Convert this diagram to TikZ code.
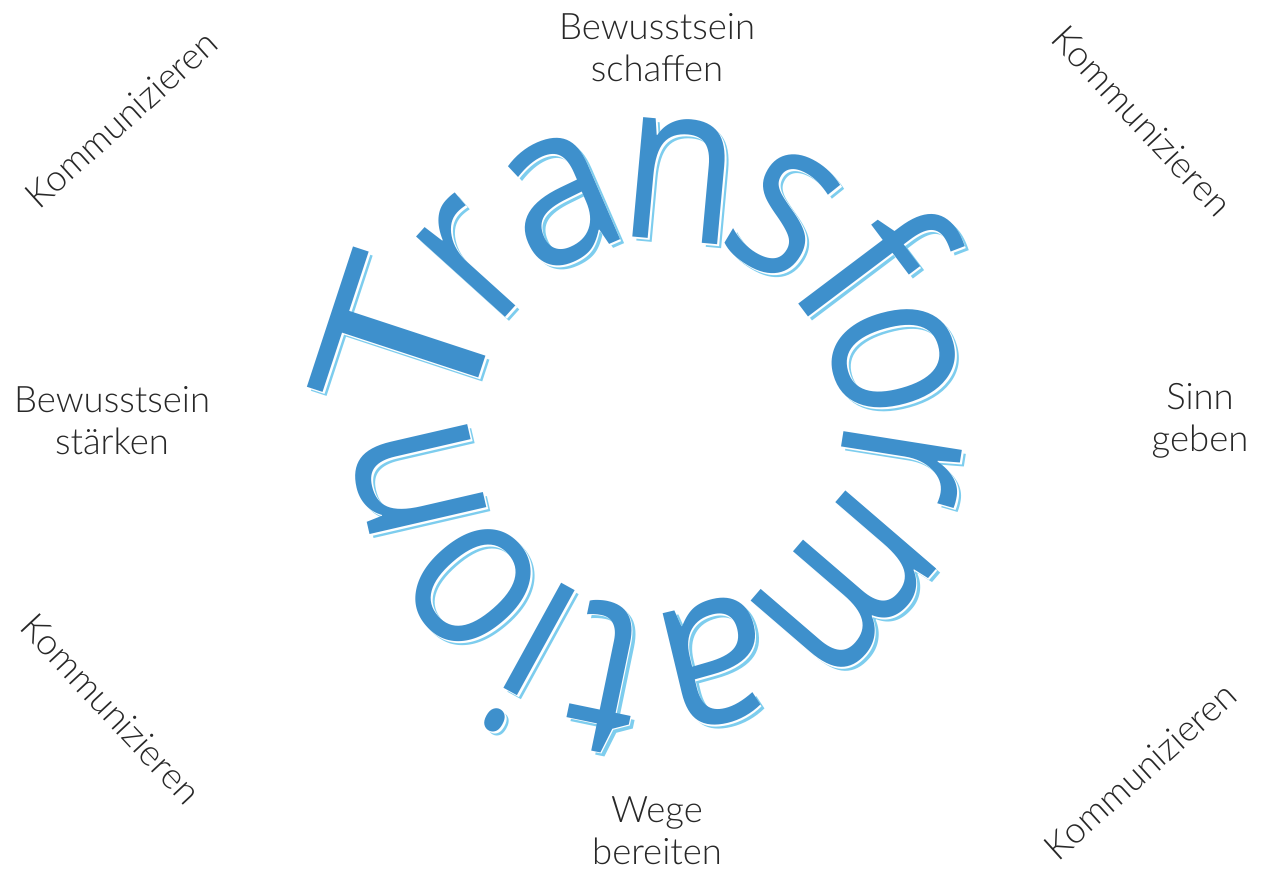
\documentclass[tikz,border=0pt]{standalone}
\usepackage{fontspec}
\setmainfont{Lato Light}
\newfontfamily\bigfont[FakeStretch=0.85]{Open Sans}
\usetikzlibrary{calc}
\definecolor{tblue}{RGB}{62,144,204}
\definecolor{tshade}{RGB}{125,205,238}
\definecolor{labgray}{RGB}{40,40,40}
\tikzset{
  letter/.style={font={\bigfont\fontsize{224}{224}\selectfont}, inner sep=0pt, anchor=base},
  mainletter/.style={letter, text=tblue},
  gapletter/.style={letter, text=white},
  shadeletter/.style={letter, text=tshade},
  lab/.style={font={\fontsize{36.5}{42}\selectfont}, text=labgray, align=center, inner sep=0pt},
}
\begin{document}
\begin{tikzpicture}[x=1pt,y=1pt]
\useasboundingbox[fill=white] (0,0) rectangle (1265,874);
\coordinate (C) at (658,449);
\foreach \ang/\ch/\xs [count=\k] in {161.8/T/1.45,137.9/r/1,113.5/a/1.05,84.8/n/1,59.2/s/1,37/f/1.05,15.6/o/1,-9/r/1,-40.7/m/1,-76.5/a/1.05,-101.7/t/1.05,-118.8/i/1,-138.9/o/1,-167/n/1}{
  \node[shadeletter, rotate=\ang-90, xscale=\xs] (S\k) at ($(C)+(\ang:185)+(4,-4)$) {\ch};
  \node[gapletter, rotate=\ang-90, xscale=\xs] (G\k) at ($(C)+(\ang:185)+(1.6,-1.6)$) {\ch};
  \node[mainletter, rotate=\ang-90, xscale=\xs] (L\k) at ($(C)+(\ang:185)$) {\ch};
}
\node[lab] (top) at (657,826) {Bewusstsein\\schaffen};
\node[lab] (left) at (112,453) {Bewusstsein\\stärken};
\node[lab] (right) at (1200,453) {Sinn\\geben};
\node[lab] (bottom) at (657,43) {Wege\\bereiten};
\node[lab, rotate=42] (k1) at (121,755) {Kommunizieren};
\node[lab, rotate=-47] (k2) at (1142,753) {Kommunizieren};
\node[lab, rotate=-47] (k3) at (111,165) {Kommunizieren};
\node[lab, rotate=42] (k4) at (1140,103) {Kommunizieren};
\end{tikzpicture}
\end{document}
